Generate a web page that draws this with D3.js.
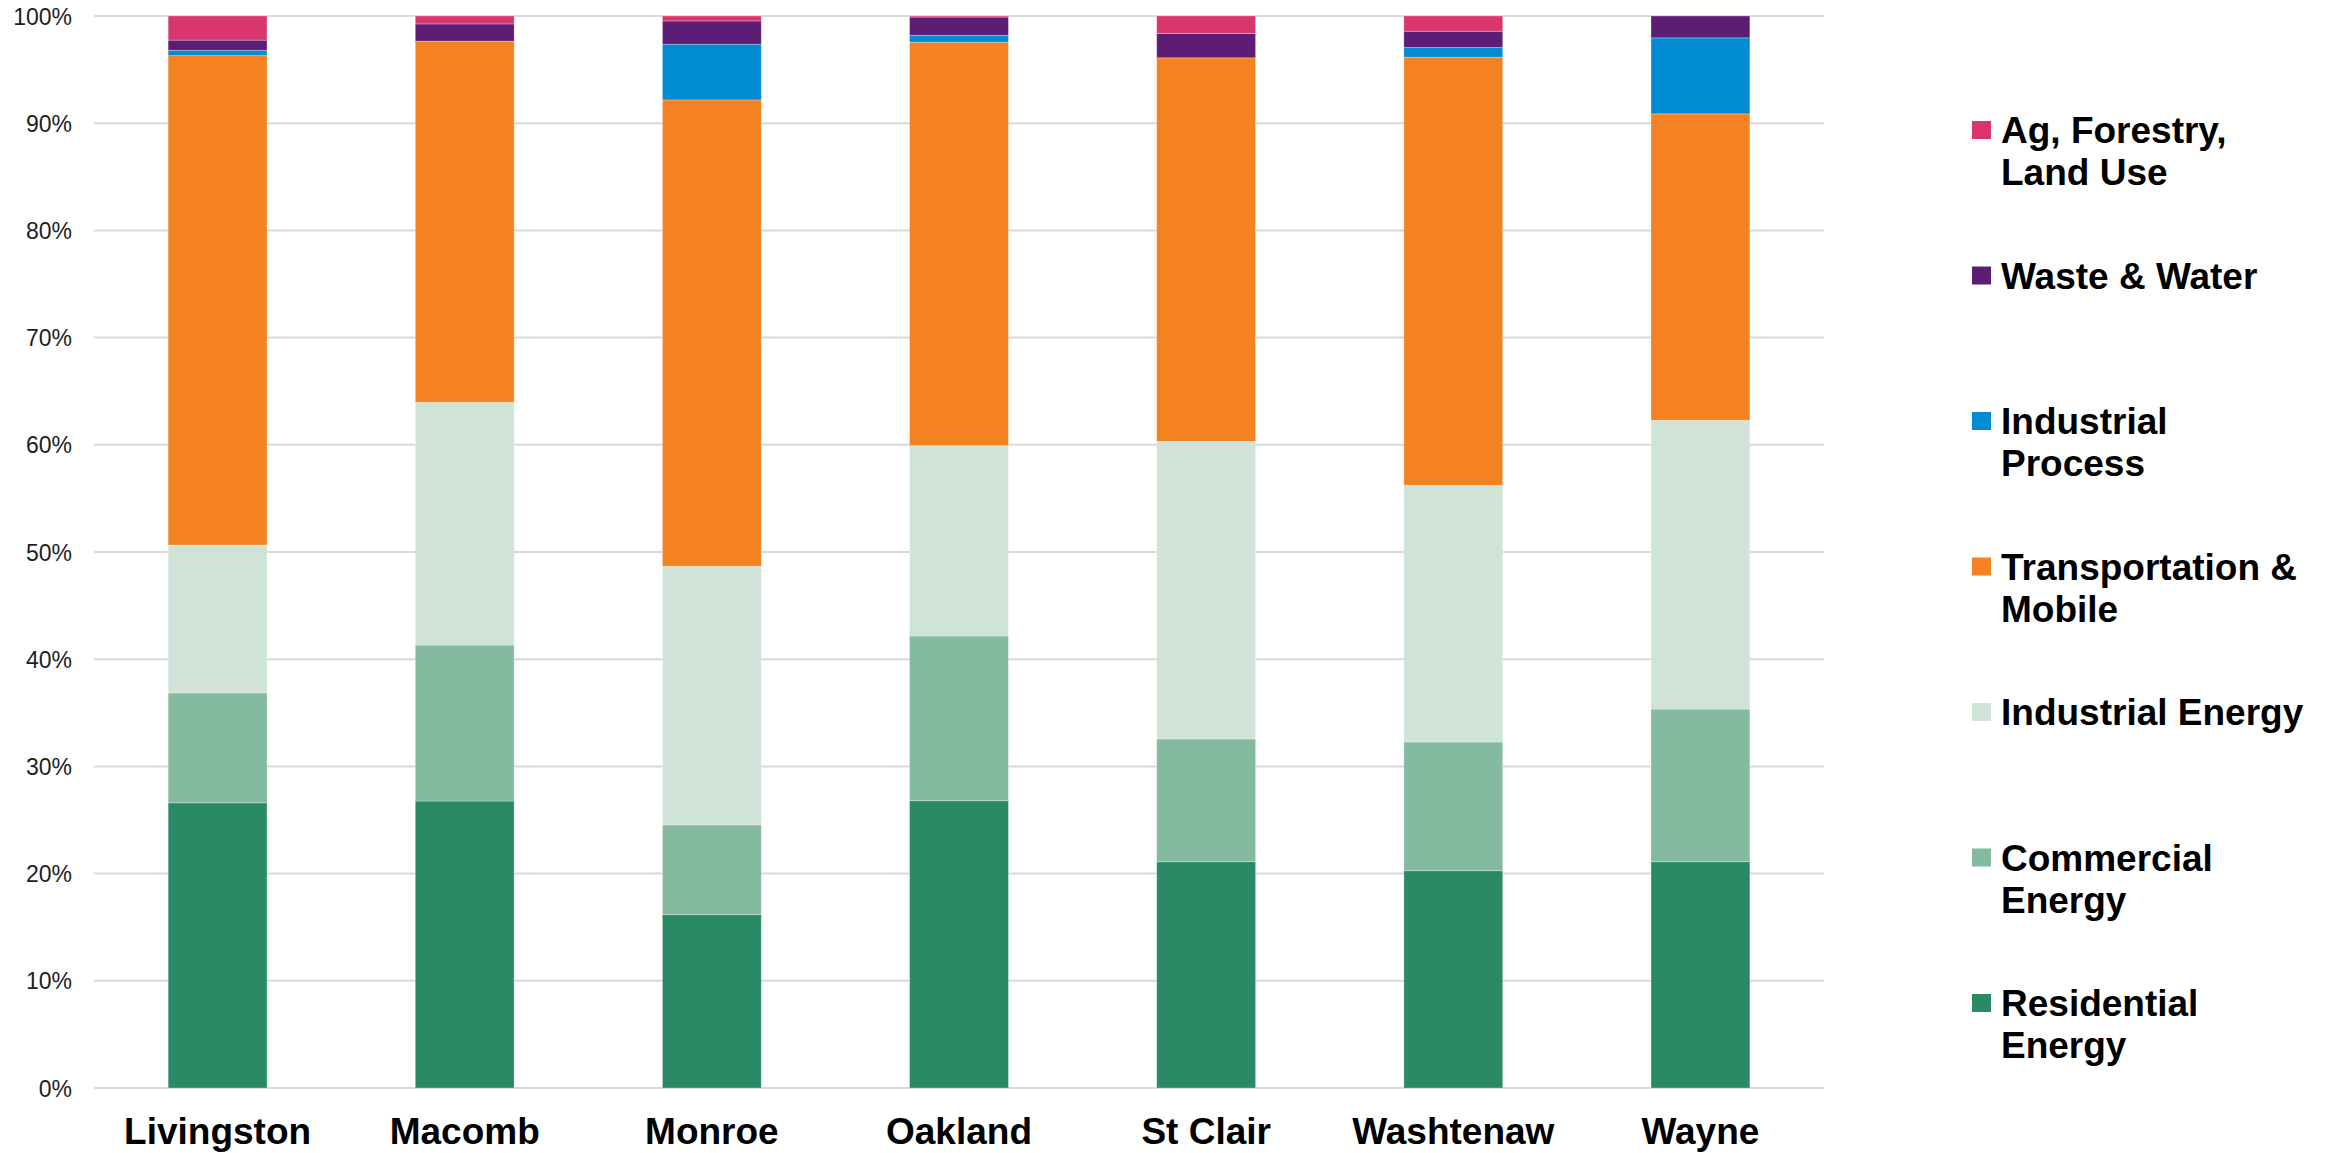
<!DOCTYPE html>
<html>
<head>
<meta charset="utf-8">
<script src="https://cdn.jsdelivr.net/npm/d3@7"></script>
<style>
  html, body { margin: 0; padding: 0; background: #ffffff; }
  svg { display: block; }
</style>
</head>
<body>
<svg id="chart" width="2333" height="1153"></svg>
<script>
// Counties along the x axis
const counties = ["Livingston", "Macomb", "Monroe", "Oakland", "St Clair", "Washtenaw", "Wayne"];

// Sector shares of emissions per county (percent), bottom of the stack first
const residentialEnergy   = [26.60, 26.77, 16.17, 26.80, 21.11, 20.27, 21.11];
const commercialEnergy    = [10.25, 14.55,  8.38, 15.36, 11.45, 12.01, 14.24];
const industrialEnergy    = [13.80, 22.64, 24.12, 17.76, 27.76, 23.94, 26.94];
const transportation      = [45.65, 33.69, 43.50, 37.63, 35.78, 39.94, 28.58];
const industrialProcess   = [ 0.50,  0.00,  5.20,  0.65,  0.00,  0.90,  7.09];
const wasteWater          = [ 0.95,  1.61,  2.17,  1.70,  2.26,  1.52,  2.04];
const agForestryLandUse   = [ 2.25,  0.74,  0.46,  0.10,  1.64,  1.42,  0.00];

// Series names, stack order (bottom to top), with legend labels split into lines
const seriesKeys = ["res", "com", "inde", "trans", "indp", "waste", "ag"];
const seriesValues = [residentialEnergy, commercialEnergy, industrialEnergy, transportation,
                      industrialProcess, wasteWater, agForestryLandUse];
const seriesLabels = [
  ["Residential", "Energy"],
  ["Commercial", "Energy"],
  ["Industrial Energy"],
  ["Transportation &", "Mobile"],
  ["Industrial", "Process"],
  ["Waste & Water"],
  ["Ag, Forestry,", "Land Use"]
];
const seriesColors = ["#2a8a66", "#84ba9f", "#cfe3d8", "#f58220", "#008bd2", "#5c1e74", "#d9356f"];

// Y axis tick values (fractions)
const yTicks = [0, 0.1, 0.2, 0.3, 0.4, 0.5, 0.6, 0.7, 0.8, 0.9, 1.0];

// Build a row per county for d3.stack
const rows = counties.map((c, i) => {
  const r = { county: c };
  seriesKeys.forEach((k, j) => { r[k] = seriesValues[j][i]; });
  return r;
});

const stack = d3.stack()
  .keys(seriesKeys)
  .offset(d3.stackOffsetExpand);
const layers = stack(rows);

const svg = d3.select("#chart");
const plot = { left: 94, right: 1824, top: 16, bottom: 1088 };

const x = d3.scaleBand()
  .domain(counties)
  .range([plot.left, plot.right])
  .paddingInner(0.6)
  .paddingOuter(0.3);

const y = d3.scaleLinear()
  .domain([0, 1])
  .range([plot.bottom, plot.top]);

const color = d3.scaleOrdinal().domain(seriesKeys).range(seriesColors);

// Horizontal gridlines
svg.append("g")
  .selectAll("line")
  .data(yTicks)
  .join("line")
  .attr("x1", plot.left)
  .attr("x2", plot.right)
  .attr("y1", d => y(d))
  .attr("y2", d => y(d))
  .attr("stroke", "#d9d9d9")
  .attr("stroke-width", 2);

// Y axis labels
const yAxis = d3.axisLeft(y)
  .tickValues(yTicks)
  .tickFormat(d3.format(".0%"))
  .tickSize(0)
  .tickPadding(0);

svg.append("g")
  .attr("transform", `translate(72,0)`)
  .call(yAxis)
  .call(g => g.select(".domain").remove())
  .call(g => g.selectAll("text")
    .attr("font-family", "'Liberation Sans', Arial, sans-serif")
    .attr("font-size", 23)
    .attr("fill", "#1e1e1e")
    .attr("dy", "0.35em"));

// Stacked bars
svg.append("g")
  .selectAll("g")
  .data(layers)
  .join("g")
  .attr("fill", d => color(d.key))
  .selectAll("rect")
  .data(d => d)
  .join("rect")
  .attr("x", d => x(d.data.county))
  .attr("width", x.bandwidth())
  .attr("y", d => y(d[1]))
  .attr("height", d => Math.max(0, y(d[0]) - y(d[1])))
  .attr("stroke", "rgba(255,255,255,0.35)")
  .attr("stroke-width", 0.8);

// X axis labels
const xAxis = d3.axisBottom(x).tickSize(0).tickPadding(0);
svg.append("g")
  .attr("transform", `translate(0,1144)`)
  .call(xAxis)
  .call(g => g.select(".domain").remove())
  .call(g => g.selectAll("text")
    .attr("font-family", "'Liberation Sans', Arial, sans-serif")
    .attr("font-size", 37)
    .attr("font-weight", "bold")
    .attr("fill", "#000")
    .attr("dy", 0)
    .attr("y", 0));

// Legend, top entry is the top of the stack
const legendOrder = d3.range(seriesKeys.length).reverse();
const legendY = d3.scalePoint()
  .domain(legendOrder)
  .range([130, 1003]);

const legend = svg.append("g")
  .selectAll("g")
  .data(legendOrder)
  .join("g")
  .attr("transform", i => `translate(1972,${legendY(i)})`);

legend.append("rect")
  .attr("x", 0)
  .attr("y", -9)
  .attr("width", 19)
  .attr("height", 18)
  .attr("fill", i => seriesColors[i]);

legend.append("text")
  .attr("x", 29)
  .attr("y", 13)
  .attr("font-family", "'Liberation Sans', Arial, sans-serif")
  .attr("font-size", 37)
  .attr("font-weight", "bold")
  .attr("fill", "#000")
  .selectAll("tspan")
  .data(i => seriesLabels[i])
  .join("tspan")
  .attr("x", 29)
  .attr("dy", (d, k) => k === 0 ? 0 : 42)
  .text(d => d);
</script>
</body>
</html>
